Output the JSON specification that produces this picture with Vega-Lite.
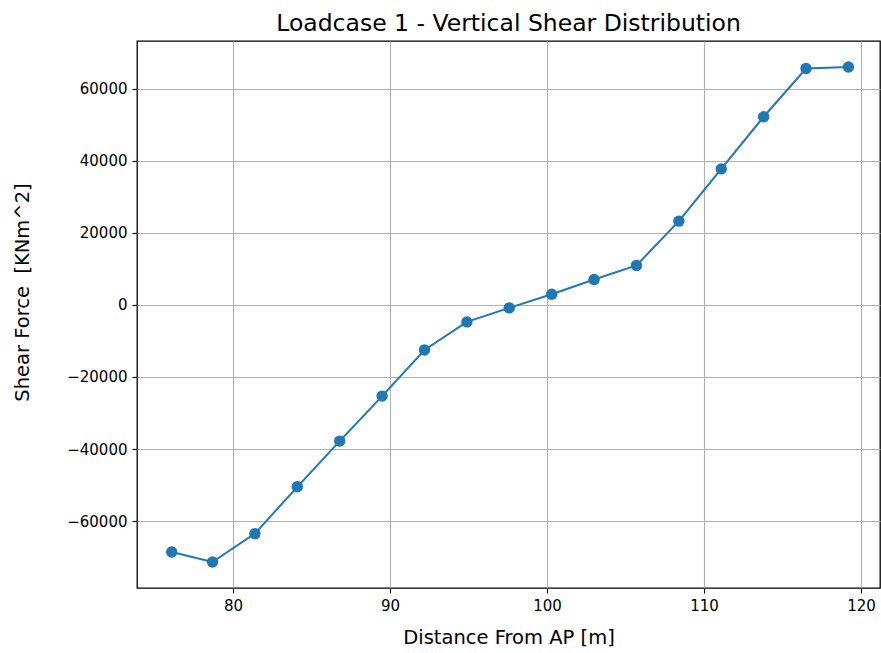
{
  "$schema": "https://vega.github.io/schema/vega-lite/v6.json",
  "autosize": {"type": "none"},
  "padding": {"left": 137, "top": 41, "right": 1, "bottom": 65},
  "width": 743,
  "height": 547,
  "background": "white",
  "title": {
    "text": "Loadcase 1 - Vertical Shear Distribution",
    "font": "DejaVu Sans",
    "fontSize": 23.5,
    "fontWeight": "normal",
    "color": "black",
    "offset": 6
  },
  "config": {
    "view": {"stroke": "black", "strokeWidth": 1.3},
    "axis": {
      "labelFont": "DejaVu Sans",
      "labelFontSize": 15,
      "labelColor": "black",
      "titleFont": "DejaVu Sans",
      "titleFontSize": 19.5,
      "titleFontWeight": "normal",
      "titleColor": "black",
      "grid": true,
      "gridColor": "#b0b0b0",
      "gridWidth": 1.1,
      "domain": false,
      "tickColor": "black",
      "tickSize": 5,
      "tickWidth": 1.1,
      "labelPadding": 5
    }
  },
  "data": {
    "values": [
      {"x": 76.1, "y": -68600},
      {"x": 78.7, "y": -71400},
      {"x": 81.4, "y": -63500},
      {"x": 84.1, "y": -50500},
      {"x": 86.8, "y": -37800},
      {"x": 89.5, "y": -25300},
      {"x": 92.2, "y": -12500},
      {"x": 94.9, "y": -4700},
      {"x": 97.6, "y": -800},
      {"x": 100.3, "y": 3000},
      {"x": 103.0, "y": 7100},
      {"x": 105.7, "y": 11000},
      {"x": 108.4, "y": 23300},
      {"x": 111.1, "y": 37800},
      {"x": 113.8, "y": 52300},
      {"x": 116.5, "y": 65700},
      {"x": 119.2, "y": 66100}
    ]
  },
  "encoding": {
    "x": {
      "field": "x",
      "type": "quantitative",
      "scale": {"domain": [73.89, 121.21], "nice": false, "zero": false},
      "axis": {"values": [80, 90, 100, 110, 120], "title": "Distance From AP [m]", "titlePadding": 15}
    },
    "y": {
      "field": "y",
      "type": "quantitative",
      "scale": {"domain": [-78611, 73333], "nice": false, "zero": false},
      "axis": {"values": [-60000, -40000, -20000, 0, 20000, 40000, 60000], "format": "d", "title": "Shear Force \u00a0[KNm^2]", "titleFontSize": 19.5, "titlePadding": 34, "titleY": 251}
    }
  },
  "layer": [
    {"mark": {"type": "line", "color": "#1f77b4", "strokeWidth": 2}},
    {"mark": {"type": "point", "filled": true, "color": "#1f77b4", "opacity": 1, "size": 130}}
  ]
}
